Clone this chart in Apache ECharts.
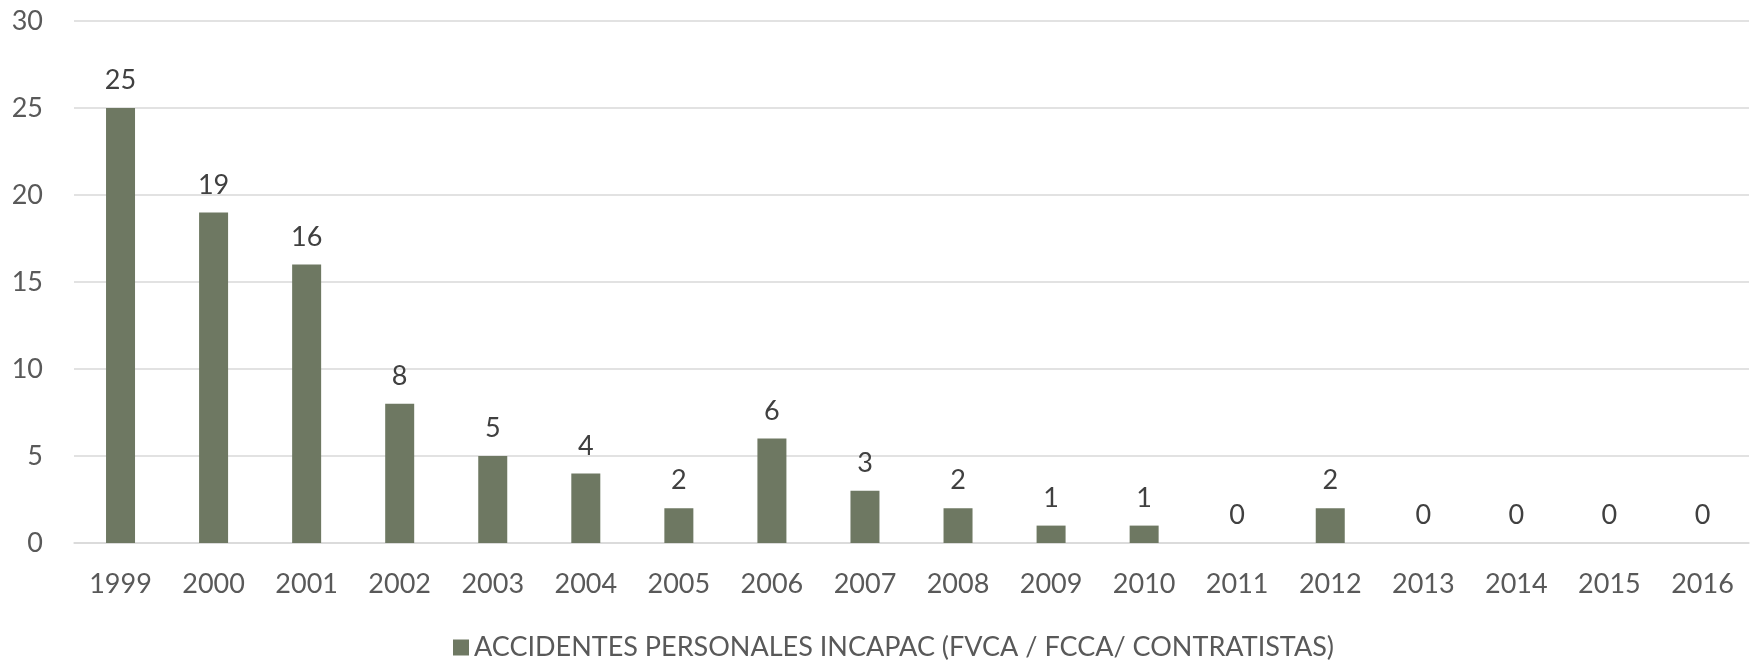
<!DOCTYPE html>
<html>
<head>
<meta charset="utf-8">
<script src="https://cdn.jsdelivr.net/npm/echarts@6/dist/echarts.min.js"></script>
<style>
  html, body { margin: 0; padding: 0; background: #fff; }
  #main { width: 1756px; height: 662px; }
</style>
</head>
<body>
<div id="main"></div>
<script>
// datos del grafico
var years = ['1999', '2000', '2001', '2002', '2003', '2004', '2005', '2006', '2007',
             '2008', '2009', '2010', '2011', '2012', '2013', '2014', '2015', '2016'];
var accidentes = [25, 19, 16, 8, 5, 4, 2, 6, 3, 2, 1, 1, 0, 2, 0, 0, 0, 0];
var serieName = 'ACCIDENTES PERSONALES INCAPAC (FVCA / FCCA/ CONTRATISTAS)';

var chart = echarts.init(document.getElementById('main'));
var fontFam = 'Lato, "Open Sans", sans-serif';

var option = {
    animation: false,
    color: ['#6e7862'],
    textStyle: { fontFamily: fontFam },
    legend: {
        top: 629,
        left: 448,
        itemWidth: 16,
        itemHeight: 16,
        itemGap: 6,
        icon: 'rect',
        textStyle: { fontSize: 27, color: '#595959', fontFamily: fontFam },
        data: [serieName]
    },
    grid: {
        left: 74,
        right: 7,
        top: 21,
        bottom: 119,
        containLabel: false
    },
    xAxis: {
        type: 'category',
        data: years,
        axisTick: { show: false },
        axisLine: { lineStyle: { color: '#d9d9d9', width: 1.5 } },
        axisLabel: {
            interval: 0,
            margin: 28,
            fontSize: 27,
            color: '#595959'
        }
    },
    yAxis: {
        type: 'value',
        min: 0,
        max: 30,
        interval: 5,
        axisLine: { show: false },
        axisTick: { show: false },
        axisLabel: {
            margin: 31,
            fontSize: 27,
            color: '#595959'
        },
        splitLine: { lineStyle: { color: '#d9d9d9', width: 1.5 } }
    },
    series: [
        {
            name: serieName,
            type: 'bar',
            barWidth: 29,
            data: accidentes,
            label: {
                show: true,
                position: 'top',
                distance: 14,
                fontSize: 27,
                color: '#404040'
            }
        }
    ]
};

chart.setOption(option);
</script>
</body>
</html>
